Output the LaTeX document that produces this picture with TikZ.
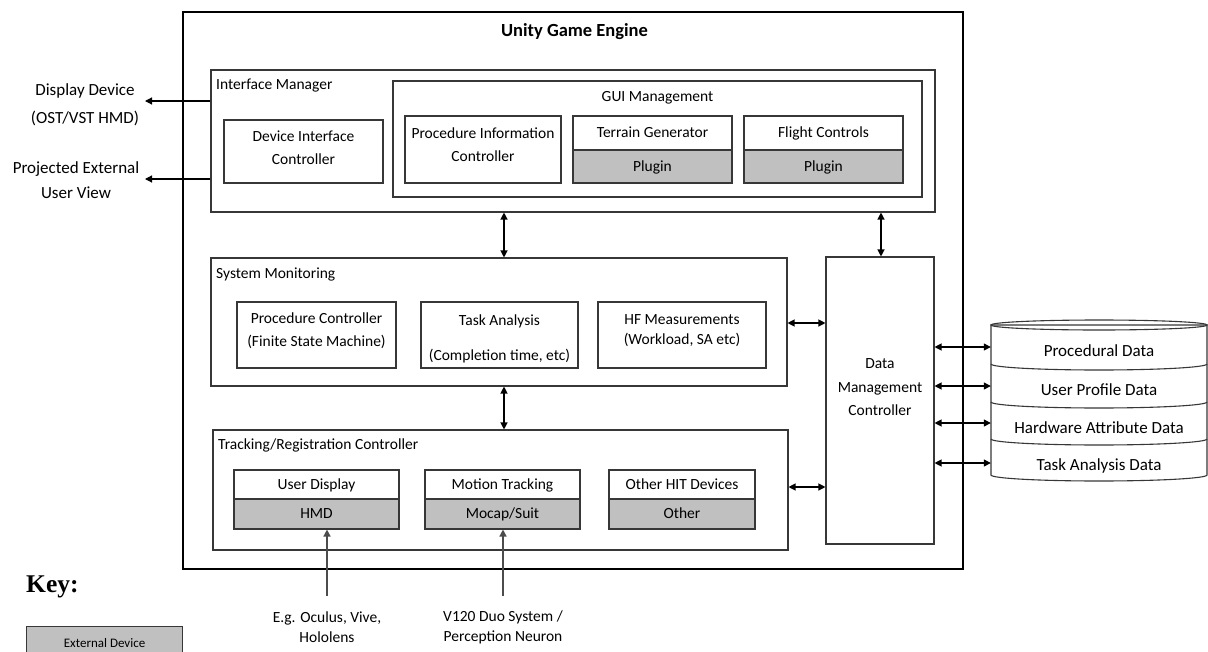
\documentclass[tikz,border=0pt]{standalone}
\usepackage{fontspec}
\setmainfont{Carlito}
\newfontfamily\keyfont{Liberation Serif}
\usetikzlibrary{arrows.meta}
\definecolor{plug}{RGB}{192,192,192}
\definecolor{edge}{RGB}{55,55,55}
\begin{document}
\begin{tikzpicture}[x=1pt,y=-1pt,
  >={Triangle[length=7pt,width=7pt]},
  box/.style={draw=edge,line width=1.1pt,fill=white,inner sep=0pt,text height=10pt,text depth=0.4pt,font=\fontsize{15.5}{18}\selectfont},
  grey/.style={box,fill=plug},
  txt/.style={inner sep=0pt,align=center,font=\fontsize{15.5}{18}\selectfont},
  txtb/.style={inner sep=0pt,align=center,font=\fontsize{15.5}{23}\selectfont},
  big/.style={inner sep=0pt,align=center,text height=11pt,text depth=0.5pt,font=\fontsize{17}{20}\selectfont},
  lbl/.style={inner sep=0pt,anchor=west,font=\fontsize{15.5}{18}\selectfont},
  darr/.style={<->,line width=1.2pt,draw=black},
  oarr/.style={->,line width=1.2pt,draw=black},
  uarr/.style={->,line width=1.5pt,draw=black!70},
  dbline/.style={draw=edge,line width=1.1pt}
]
\useasboundingbox (0,0) rectangle (1208,651);
\clip (0,0) rectangle (1208,651);

% Unity outer box
\node[box,draw=black,minimum width=780pt,minimum height=557pt] (unity) at (573,290.5) {};
\node[inner sep=0pt,font=\bfseries\fontsize{18.5}{22}\selectfont] (title) at (574.5,32) {Unity Game Engine};

% Interface manager
\node[box,minimum width=724pt,minimum height=142pt] (im) at (573,141) {};
\node[lbl] (imlbl) at (216,86) {Interface Manager};
\node[box,minimum width=529pt,minimum height=116pt] (gui) at (657.5,139) {};
\node[txt] (guilbl) at (657.5,98) {GUI Management};
\node[box,minimum width=159pt,minimum height=63pt] (dic) at (303.5,151.5) {};
\node[txtb] (dict) at (303.5,147.5) {Device Interface\\Controller};
\node[box,minimum width=156pt,minimum height=67pt] (pic) at (483,149.5) {};
\node[txtb] (pict) at (483,144.5) {Procedure Information\\Controller};
\node[box,minimum width=159pt,minimum height=34pt] (tg) at (652.5,133) {Terrain Generator};
\node[grey,minimum width=159pt,minimum height=33pt] (tgp) at (652.5,166.5) {Plugin};
\node[box,minimum width=159pt,minimum height=34pt] (fc) at (823.5,133) {Flight Controls};
\node[grey,minimum width=159pt,minimum height=33pt] (fcp) at (823.5,166.5) {Plugin};

% System monitoring
\node[box,minimum width=576pt,minimum height=128pt] (sm) at (499,322) {};
\node[lbl] (smlbl) at (216,274) {System Monitoring};
\node[box,minimum width=159pt,minimum height=66pt] (pc) at (316.5,335) {};
\node[txtb] (pct) at (316.5,330.5) {Procedure Controller\\(Finite State Machine)};
\node[box,minimum width=157pt,minimum height=66pt] (ta) at (499.5,335) {};
\node[inner sep=0pt,align=center,font=\fontsize{15.5}{35}\selectfont] (tat) at (499.5,338.5) {Task Analysis\\(Completion time, etc)};
\node[box,minimum width=168pt,minimum height=66pt] (hf) at (682,335) {};
\node[txtb,font=\fontsize{15.5}{20}\selectfont] (hft) at (682,331) {HF Measurements\\(Workload, SA etc)};

% Tracking / registration
\node[box,minimum width=575pt,minimum height=120pt] (trk) at (500.5,490) {};
\node[lbl] (trklbl) at (218,445) {Tracking/Registration Controller};
\node[box,minimum width=165pt,minimum height=29pt] (ud) at (316.5,484.5) {User Display};
\node[grey,minimum width=165pt,minimum height=30pt] (hmd) at (316.5,514) {HMD};
\node[box,minimum width=155pt,minimum height=29pt] (mt) at (502.5,484.5) {Motion Tracking};
\node[grey,minimum width=155pt,minimum height=30pt] (moc) at (502.5,514) {Mocap/Suit};
\node[box,minimum width=146pt,minimum height=29pt] (oh) at (682,484.5) {Other HIT Devices};
\node[grey,minimum width=146pt,minimum height=30pt] (oth) at (682,514) {Other};

% Data management controller
\node[box,minimum width=108pt,minimum height=287pt] (dmc) at (880,400.5) {};
\node[inner sep=0pt,align=center,font=\fontsize{15.5}{23.5}\selectfont] (dmct) at (880,387.5) {Data\\Management\\Controller};

% Database cylinder
\path[fill=white,dbline] (991,325) -- (991,475) arc[start angle=180,end angle=360,x radius=108pt,y radius=6pt] -- (1207,325) -- cycle;
\draw[dbline] (1099,325) ellipse[x radius=108pt,y radius=5pt];
\foreach \yy in {364,402,439}
  \draw[dbline] (991,\yy) arc[start angle=180,end angle=360,x radius=108pt,y radius=6pt];
\node[big,minimum width=216pt] (db1) at (1099,351) {Procedural Data};
\node[big,minimum width=216pt] (db2) at (1099,390) {User Profile Data};
\node[big,minimum width=216pt] (db3) at (1099,428) {Hardware Attribute Data};
\node[big,minimum width=216pt] (db4) at (1099,465) {Task Analysis Data};

% Side outputs
\node[inner sep=0pt,align=center,font=\fontsize{17}{28}\selectfont] (dd) at (85,105) {Display Device\\(OST/VST HMD)};
\node[inner sep=0pt,align=center,font=\fontsize{17}{25}\selectfont] (pev) at (76,180.5) {Projected External\\User View};
\coordinate (ddtip) at (145,101);
\coordinate (pevtip) at (145,179);
\draw[oarr] (im.west |- ddtip) -- (ddtip);
\draw[oarr] (im.west |- pevtip) -- (pevtip);

% Internal connectors
\coordinate (c1) at (504,235);
\coordinate (c2) at (881,235);
\coordinate (c3) at (806,323);
\coordinate (c4) at (806,487);
\draw[darr] (im.south -| c1) -- (sm.north -| c1);
\draw[darr] (sm.south -| c1) -- (trk.north -| c1);
\draw[darr] (im.south -| c2) -- (dmc.north -| c2);
\draw[darr] (sm.east |- c3) -- (dmc.west |- c3);
\draw[darr] (trk.east |- c4) -- (dmc.west |- c4);

% DMC to database
\coordinate (r1) at (960,347);
\coordinate (r2) at (960,386);
\coordinate (r3) at (960,423);
\coordinate (r4) at (960,463);
\draw[darr] (dmc.east |- r1) -- (db1.west |- r1);
\draw[darr] (dmc.east |- r2) -- (db2.west |- r2);
\draw[darr] (dmc.east |- r3) -- (db3.west |- r3);
\draw[darr] (dmc.east |- r4) -- (db4.west |- r4);

% External inputs
\coordinate (b1) at (327,596);
\coordinate (b2) at (503,596);
\draw[uarr] (b1) -- (b1 |- hmd.south);
\draw[uarr] (b2) -- (b2 |- moc.south);
\node[inner sep=0pt,align=center,font=\fontsize{15.5}{20}\selectfont] (eg) at (327,627) {E.g. Oculus, Vive,\\Hololens};
\node[inner sep=0pt,align=center,font=\fontsize{15.5}{20}\selectfont] (v120) at (503,627) {V120 Duo System /\\Perception Neuron};

% Key
\node[inner sep=0pt,anchor=base west,font=\keyfont\bfseries\fontsize{25.5}{30}\selectfont] (key) at (26,592) {Key:};
\node[grey,anchor=north west,minimum width=156pt,minimum height=34pt,text height=8.5pt,font=\fontsize{13}{16}\selectfont] (ext) at (26,626) {External Device};
\end{tikzpicture}
\end{document}
